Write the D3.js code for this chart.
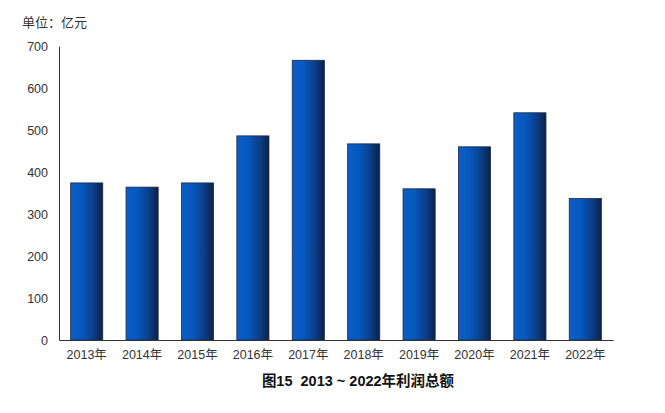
<!DOCTYPE html>
<html><head><meta charset="utf-8">
<script src="https://cdn.jsdelivr.net/npm/d3@7"></script>
<style>body{margin:0;background:#fff}svg{display:block}text{font-family:"Liberation Sans","Noto Sans CJK SC",sans-serif}</style>
</head><body>
<svg id="c" width="665" height="413"></svg>
<script>
const years = ["2013年","2014年","2015年","2016年","2017年","2018年","2019年","2020年","2021年","2022年"];
const profits = [374, 364, 374, 486, 666, 467, 360, 460, 541, 337];
const yTicks = [0,100,200,300,400,500,600,700];
const unitLabel = "单位：亿元";
const title = "图15\u00a0\u00a02013\u00a0~\u00a02022年利润总额";

const svg = d3.select("#c");
const m = {l:59, r:52, t:46, b:73};
const W = 665, H = 413;
const x = d3.scaleBand().domain(years).range([m.l, W - m.r]).paddingInner(0.42).paddingOuter(0.21);
const y = d3.scaleLinear().domain([0,700]).range([H - m.b, m.t]);

const defs = svg.append("defs");
const g = defs.append("linearGradient").attr("id","bg").attr("x1","0").attr("x2","1").attr("y1","0").attr("y2","0");
g.append("stop").attr("offset","0%").attr("stop-color","#0a5ec6");
g.append("stop").attr("offset","35%").attr("stop-color","#0658bd");
g.append("stop").attr("offset","70%").attr("stop-color","#0b3f8a");
g.append("stop").attr("offset","100%").attr("stop-color","#0c2148");

svg.append("g").selectAll("rect").data(years).join("rect")
  .attr("x", d => x(d)).attr("width", x.bandwidth())
  .attr("y", (d,i) => y(profits[i])).attr("height", (d,i) => y(0) - y(profits[i]))
  .attr("fill","url(#bg)").attr("stroke","#1b2a45").attr("stroke-width",0.8);

const ya = svg.append("g").attr("transform",`translate(${m.l},0)`)
  .call(d3.axisLeft(y).tickValues(yTicks).tickSize(0).tickPadding(11));
ya.select(".domain").attr("stroke","#333");
ya.selectAll("text").attr("font-size",12.5).attr("fill","#333");

const xa = svg.append("g").attr("transform",`translate(0,${H - m.b})`)
  .call(d3.axisBottom(x).tickSize(0).tickPadding(10));
xa.select(".domain").attr("stroke","#333");
xa.selectAll("text").attr("font-size",12.5).attr("fill","#333");

svg.append("text").attr("x",22).attr("y",27).attr("font-size",13).attr("fill","#333").text(unitLabel);
svg.append("text").attr("x",358).attr("y",386).attr("text-anchor","middle").attr("font-size",14.5)
  .attr("font-weight","bold").attr("fill","#111").text(title);
</script>
</body></html>
